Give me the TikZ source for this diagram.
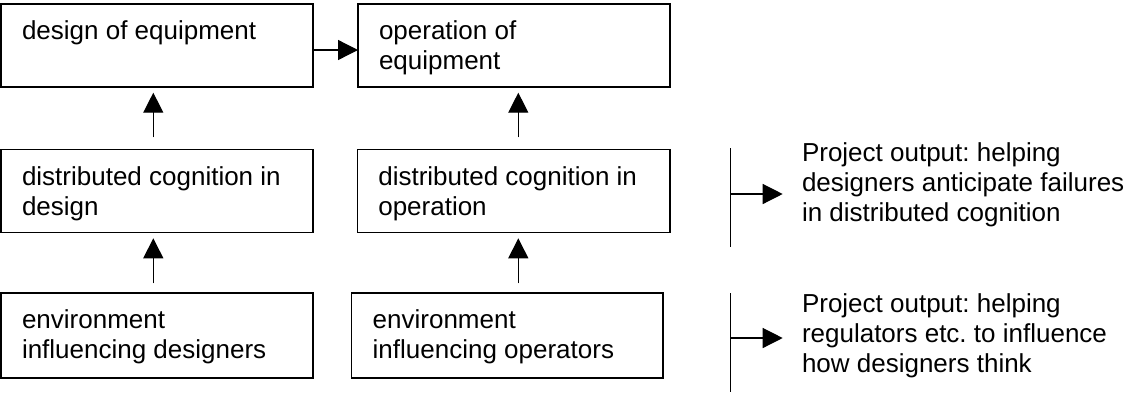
\documentclass[tikz,border=0pt]{standalone}
\usepackage{fontspec}
\setmainfont{Liberation Sans}
\usetikzlibrary{arrows.meta}
\frenchspacing
\tikzset{
  box/.style={draw, line width=1.3pt, inner xsep=21pt, inner ysep=0pt, outer sep=0pt, anchor=north west},
  arr/.style={line width=1.3pt, -{Triangle[length=20pt,width=20pt]}},
  ln/.style={line width=1.3pt},
  txt/.style={inner sep=0pt, outer sep=0pt, anchor=base west},
}
\newcommand{\boxtext}[4]{\parbox[t][#2][t]{#1}{\raggedright\frenchspacing\rule{0pt}{#3}#4}}
\begin{document}
\begin{tikzpicture}[x=1pt,y=-1pt,font=\fontsize{26}{30}\selectfont]
\fill[white] (0,0) rectangle (1132,392);
\useasboundingbox (0,0) rectangle (1132,392);

\node[box] (L1) at (1,4) {\boxtext{270pt}{83pt}{35pt}{design of equipment}};
\node[box] (R1) at (358,4) {\boxtext{270pt}{83pt}{35pt}{operation of\\equipment}};
\node[box] (L2) at (1,149.3) {\boxtext{270pt}{83pt}{35.7pt}{distributed cognition in\\design}};
\node[box] (R2) at (357.3,149.3) {\boxtext{270.7pt}{83pt}{35.7pt}{distributed cognition in\\operation}};
\node[box] (L3) at (1,293) {\boxtext{270pt}{85pt}{35pt}{environment\\influencing designers}};
\node[box] (R3) at (351.7,293) {\boxtext{269.3pt}{85pt}{35pt}{environment\\influencing operators}};

\coordinate (hx) at (0,50);
\draw[arr] (L1.east |- hx) -- (R1.west |- hx);

\coordinate (cL) at (153.3,0);
\coordinate (cR) at (518.3,0);
\draw[arr, shorten <=12pt, shorten >=5.7pt] (L2.north -| cL) -- (L1.south -| cL);
\draw[arr, shorten <=12pt, shorten >=5.7pt] (R2.north -| cR) -- (R1.south -| cR);
\draw[arr, shorten <=9.7pt, shorten >=6pt] (L3.north -| cL) -- (L2.south -| cL);
\draw[arr, shorten <=9.7pt, shorten >=6pt] (R3.north -| cR) -- (R2.south -| cR);

\node[txt] (P1) at (802,161.7) {\parbox[t]{330pt}{\raggedright\frenchspacing Project output: helping\\designers anticipate failures\\in distributed cognition}};
\node[txt] (P2) at (802,312.7) {\parbox[t]{330pt}{\raggedright\frenchspacing Project output: helping\\regulators etc. to influence\\how designers think}};

\coordinate (v1a) at (730.7,148);
\coordinate (v1b) at (730.7,247);
\coordinate (m1) at (730.7,194);
\draw[ln] (v1a) -- (v1b);
\draw[arr, shorten >=19.3pt] (m1) -- (P1.west |- m1);

\coordinate (v2a) at (730.7,293);
\coordinate (v2b) at (730.7,392);
\coordinate (m2) at (730.7,338);
\draw[ln] (v2a) -- (v2b);
\draw[arr, shorten >=19.3pt] (m2) -- (P2.west |- m2);
\end{tikzpicture}
\end{document}
